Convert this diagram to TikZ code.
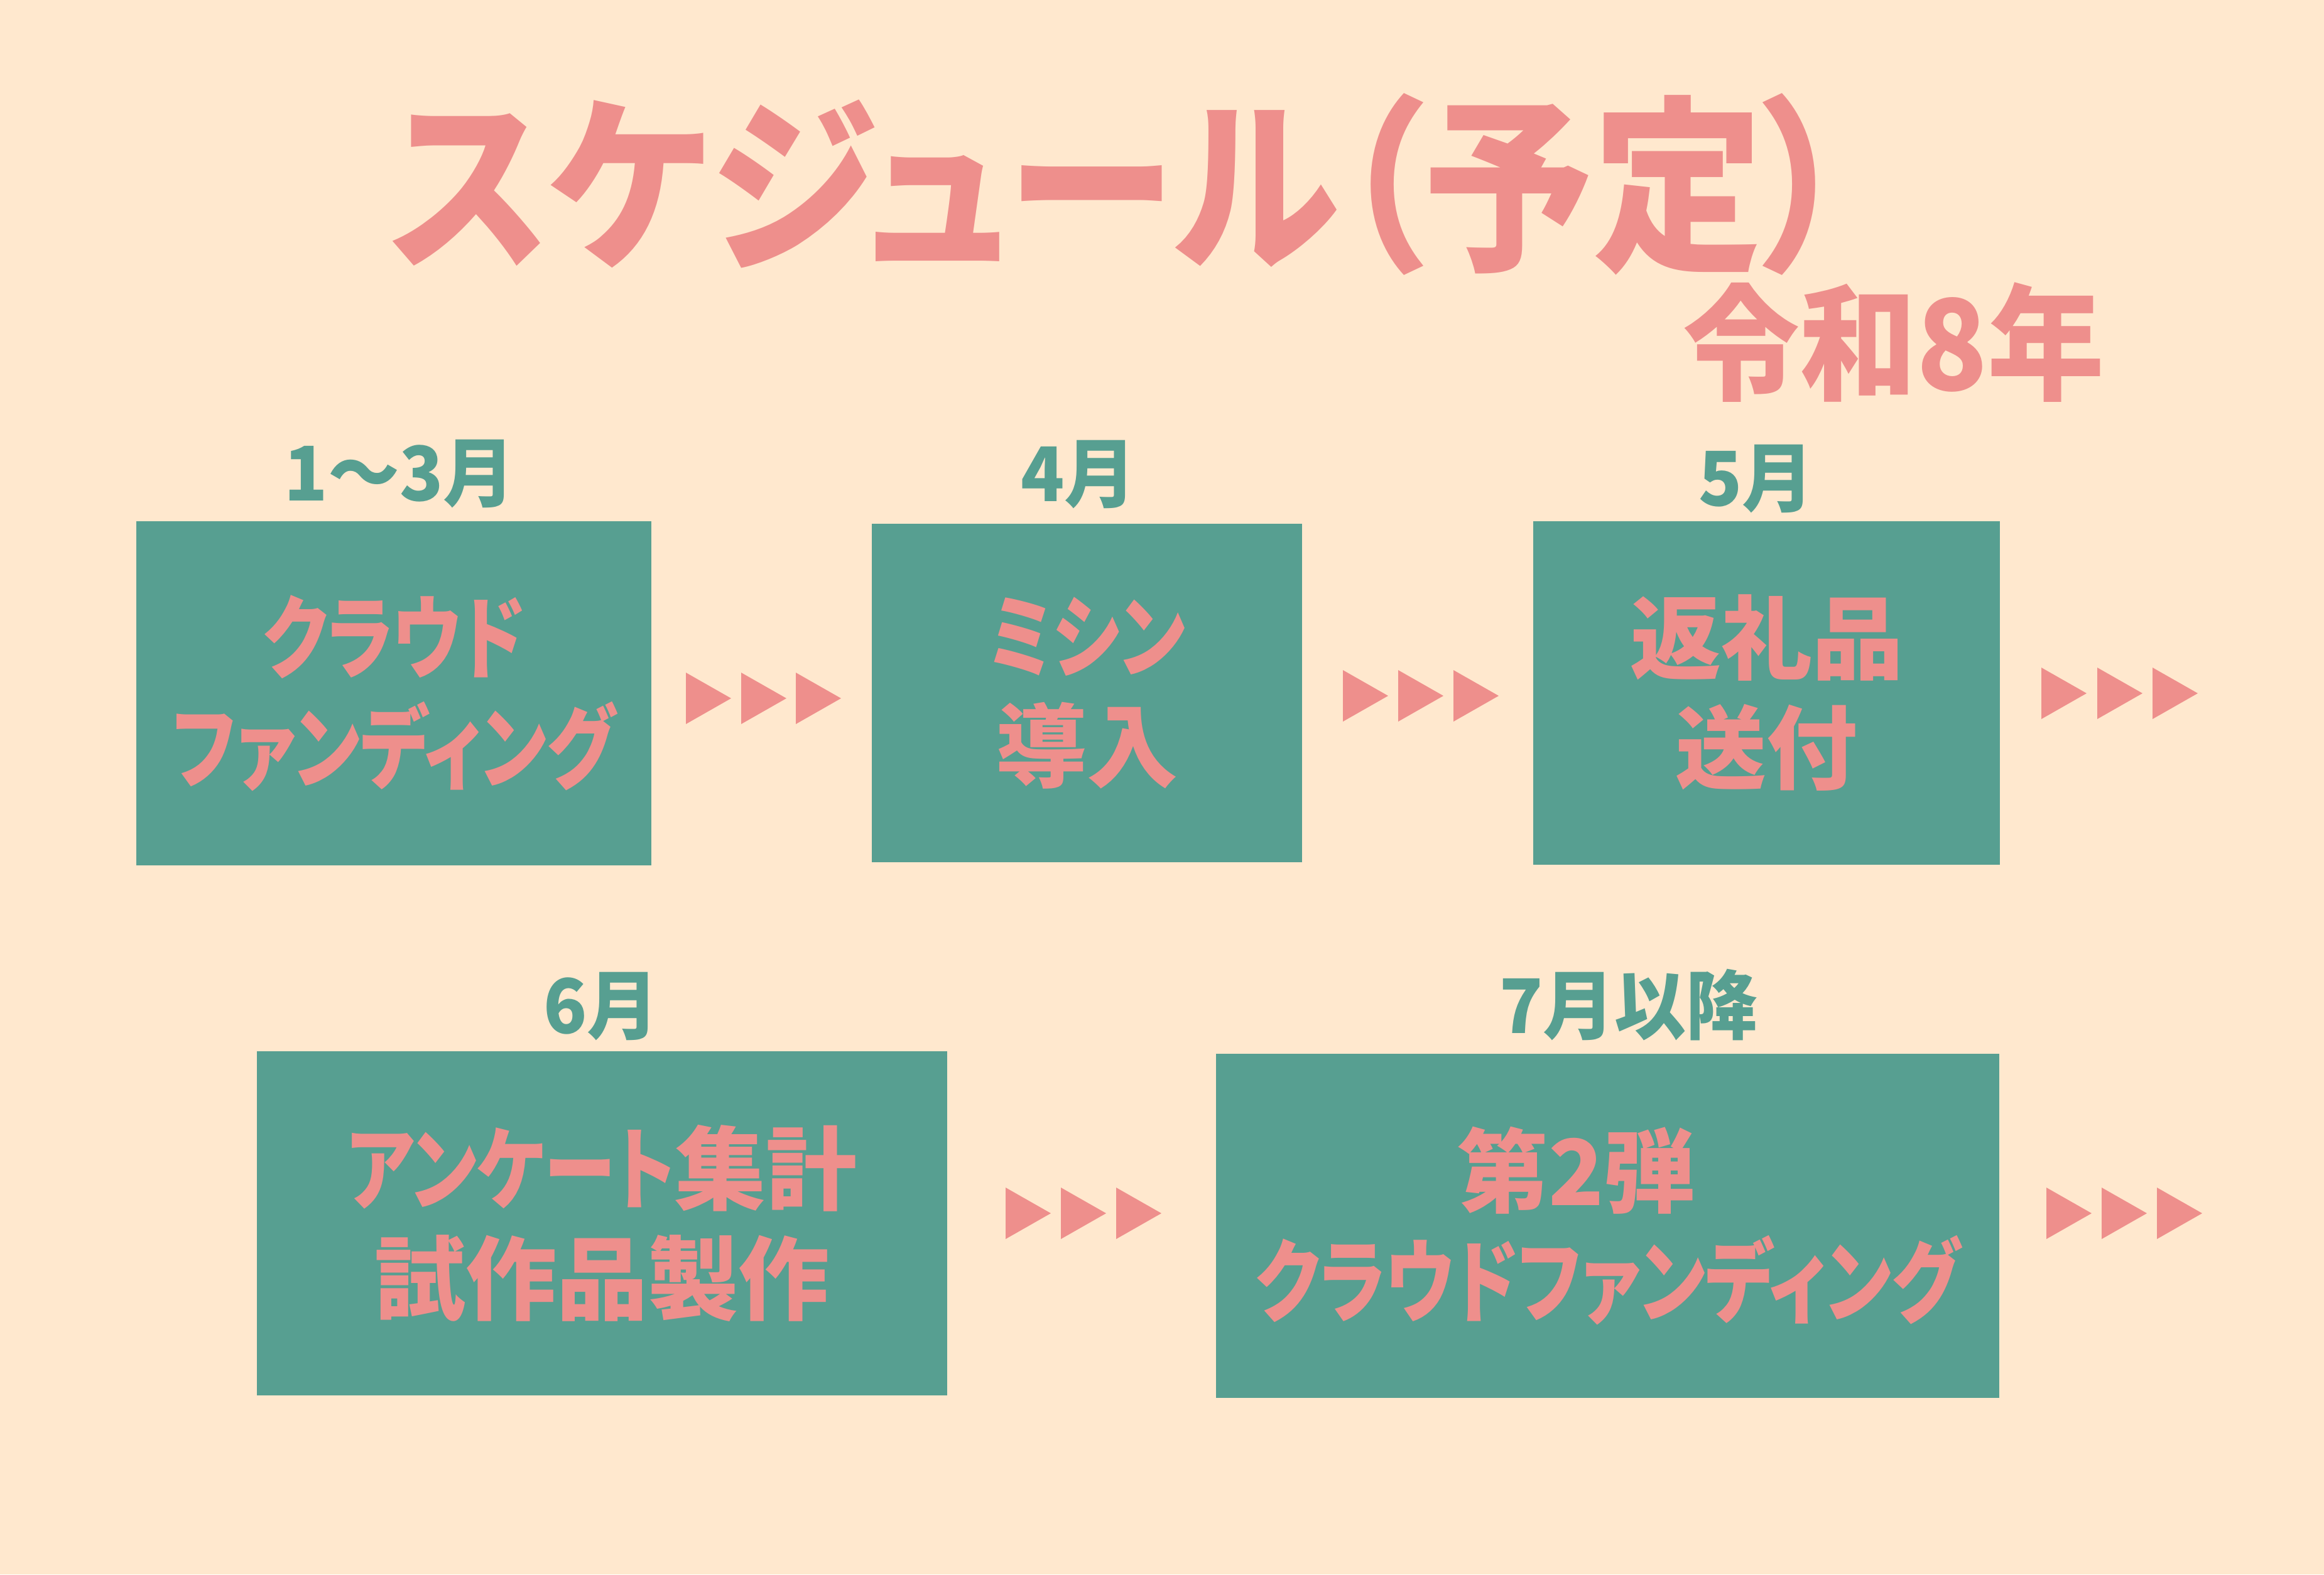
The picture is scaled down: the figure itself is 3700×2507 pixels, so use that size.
\documentclass[tikz,border=0pt]{standalone}
\usepackage{fontspec}
\newfontfamily\titlejp{Noto Sans CJK JP}[FakeStretch=0.9,RawFeature=+palt]
\newfontfamily\yearjp{Noto Sans CJK JP}[FakeStretch=0.93,RawFeature=+palt]
\newfontfamily\boxjp{Noto Sans CJK JP}[RawFeature=+palt]
\newfontfamily\kn{Noto Sans CJK JP}[FakeStretch=0.79,RawFeature=+palt]
\newfontfamily\labjp{Noto Sans CJK JP}[FakeStretch=0.95]
\definecolor{bgc}{RGB}{255,232,206}
\definecolor{tealc}{RGB}{87,159,145}
\definecolor{pinkc}{RGB}{238,143,140}
\newcommand\tripl[2]{\fill[pinkc] (#1,#2-41) -- ++(72,41) -- ++(-72,41) -- cycle;}
\begin{document}
\begin{tikzpicture}[x=0.1pt,y=-0.1pt,
  box/.style={fill=tealc,draw=none,inner sep=0pt,align=center,text=pinkc,
    font=\fontsize{14.5}{17.5}\selectfont\boxjp\bfseries},
  month/.style={text=tealc,inner sep=0pt,font=\fontsize{12}{14}\selectfont\labjp\bfseries},
  ttl/.style={text=pinkc,inner sep=0pt}]
\fill[bgc] (0,0) rectangle (3700,2507);
\useasboundingbox (0,0) rectangle (3700,2507);
% title
\node[ttl,font=\fontsize{30}{32}\selectfont\titlejp\bfseries] (title) at (1781,293) {スケジュール（予定）};
\node[ttl,font=\fontsize{20}{22}\selectfont\yearjp\bfseries] (year) at (3015,545) {令和8年};
% boxes
\node[box,minimum width=82pt,minimum height=54.8pt] (b1) at (627,1104) {{\kn\bfseries クラウド}\\{\kn\bfseries ファンディング}};
\node[box,minimum width=68.5pt,minimum height=53.9pt] (b2) at (1730.5,1103.5) {{\kn\bfseries ミシン}\\導入};
\node[box,minimum width=74.3pt,minimum height=54.7pt] (b3) at (2812.5,1103.5) {返礼品\\送付};
\node[box,minimum width=109.9pt,minimum height=54.8pt] (b4) at (958.5,1948) {{\kn\bfseries アンケート}集計\\試作品製作};
\node[box,minimum width=124.7pt,minimum height=54.8pt] (b5) at (2559.5,1952) {第2弾\hspace*{10pt}\\{\kn\bfseries クラウドファンディング}};
% month labels
\node[month] (m1) at (636,755) {1〜3月};
\node[month] (m2) at (1717,756) {4月};
\node[month] (m3) at (2796,763) {5月};
\node[month] (m4) at (957,1603) {6月};
\node[month] (m5) at (2593,1600) {7月以降};
% triangle arrows
\tripl{1092}{1112}\tripl{1180}{1112}\tripl{1267}{1112}
\tripl{2138}{1108}\tripl{2226}{1108}\tripl{2314}{1108}
\tripl{3250}{1104}\tripl{3339}{1104}\tripl{3427}{1104}
\tripl{1601}{1932}\tripl{1689}{1932}\tripl{1777}{1932}
\tripl{3258}{1932}\tripl{3346}{1932}\tripl{3434}{1932}
\end{tikzpicture}
\end{document}
